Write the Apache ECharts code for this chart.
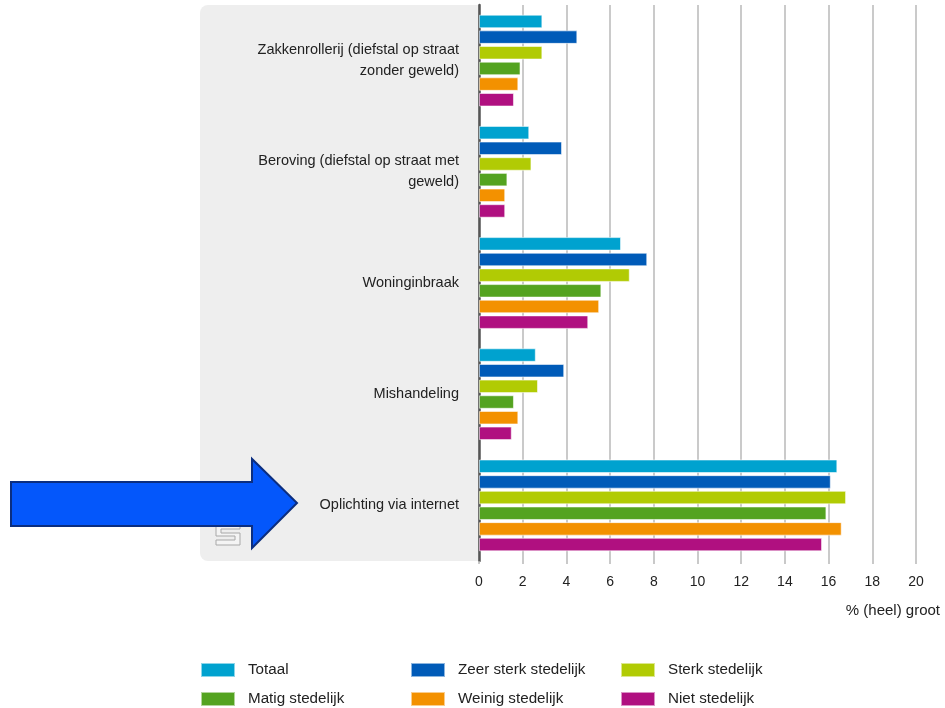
<!DOCTYPE html>
<html>
<head>
<meta charset="utf-8">
<script src="https://cdn.jsdelivr.net/npm/echarts@6/dist/echarts.min.js"></script>
<style>
html,body{margin:0;padding:0;background:#fff;}
#chart{width:945px;height:708px;}
</style>
</head>
<body>
<div id="chart"></div>
<script>
const categories = [
  "Zakkenrollerij (diefstal op straat\nzonder geweld)",
  "Beroving (diefstal op straat met\ngeweld)",
  "Woninginbraak",
  "Mishandeling",
  "Oplichting via internet"
];
const seriesNames = ["Totaal","Zeer sterk stedelijk","Sterk stedelijk","Matig stedelijk","Weinig stedelijk","Niet stedelijk"];
const totaal      = [2.9, 2.3, 6.5, 2.6, 16.4];
const zeerSterk   = [4.5, 3.8, 7.7, 3.9, 16.1];
const sterk       = [2.9, 2.4, 6.9, 2.7, 16.8];
const matig       = [1.9, 1.3, 5.6, 1.6, 15.9];
const weinig      = [1.8, 1.2, 5.5, 1.8, 16.6];
const niet        = [1.6, 1.2, 5.0, 1.5, 15.7];
const xTicks = [0,2,4,6,8,10,12,14,16,18,20];
const axisTitle = "% (heel) groot";

const colors = ["#00a2cf","#005bb8","#b1cb04","#54a320","#f39100","#b01080"];
const values = [totaal, zeerSterk, sterk, matig, weinig, niet];
const FONT = "'Liberation Sans', Arial, sans-serif";

const legendPos = [
  {left:200, top:662},{left:410, top:662},{left:620, top:662},
  {left:200, top:691},{left:410, top:691},{left:620, top:691}
];

const chart = echarts.init(document.getElementById('chart'), null, {renderer:'canvas'});
const option = {
  animation:false,
  color: colors,
  textStyle:{fontFamily:FONT},
  grid:{left:479, right:29, top:5, bottom:147, containLabel:false},
  xAxis:{
    type:'value', min:xTicks[0], max:xTicks[xTicks.length-1], interval:2,
    axisLine:{show:false},
    axisTick:{show:true, length:3, lineStyle:{color:'#b8b8b8', width:1.5}},
    splitLine:{show:true, lineStyle:{color:'#b8b8b8', width:1.5}},
    axisLabel:{color:'#222', fontSize:14, margin:14, fontFamily:FONT,
      formatter:v=>String(v)}
  },
  yAxis:{
    type:'category', data:categories, inverse:true,
    axisLine:{show:true, lineStyle:{color:'#555', width:2.5}},
    axisTick:{show:false},
    splitLine:{show:false},
    axisLabel:{color:'#222', fontSize:14.5, margin:20, lineHeight:21, align:'right', fontFamily:FONT}
  },
  legend: seriesNames.map((n,i)=>({
    data:[n], left:legendPos[i].left, top:legendPos[i].top, padding:0,
    itemWidth:34, itemHeight:14, icon:'rect', selectedMode:false,
    textStyle:{fontSize:15.2, lineHeight:14, color:'#222', fontFamily:FONT, padding:[0,0,0,8]}
  })),
  graphic:[
    {type:'rect', z:-10, silent:true,
      shape:{x:200, y:5, width:290, height:556, r:8},
      style:{fill:'#eeeeee'}},
    {type:'rect', z:-9, silent:true,
      shape:{x:480, y:0, width:20, height:570},
      style:{fill:'#ffffff'}},
    {type:'polygon', z:5, silent:true,
      shape:{points:[[216,524],[240,524],[240,529],[221,529],[221,533],[240,533],[240,545],[216,545],[216,540],[235,540],[235,536],[216,536]]},
      style:{fill:'#f4f4f4', stroke:'#a8a8a8', lineWidth:1}},
    {type:'polygon', z:10, silent:true,
      shape:{points:[[11,482],[252,482],[252,459],[297,503],[252,548],[252,526],[11,526]]},
      style:{fill:'#0457fb', stroke:'#0b2e80', lineWidth:2}},
    {type:'text', z:10, silent:true,
      style:{x:940, y:611, text:axisTitle, align:'right', verticalAlign:'middle',
        fontSize:15, fill:'#222', fontFamily:FONT}}
  ],
  series: seriesNames.map((n,i)=>({
    name:n, type:'bar', data:values[i],
    barWidth:13.5, barGap:'16%',
    itemStyle:{color:colors[i], borderColor:'rgba(255,255,255,0.55)', borderWidth:1},
    emphasis:{disabled:true}
  }))
};
chart.setOption(option);
</script>
</body>
</html>
